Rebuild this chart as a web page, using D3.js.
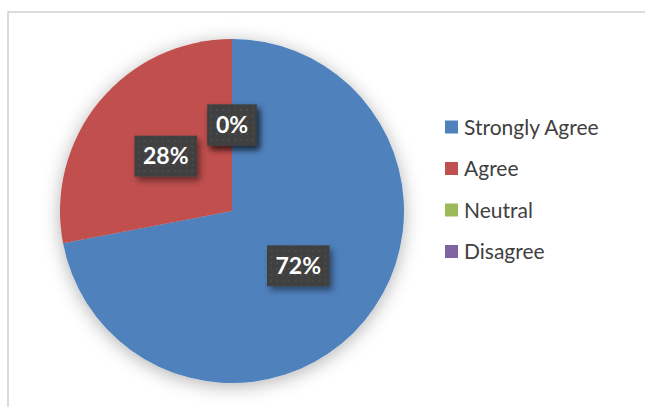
<!DOCTYPE html>
<html>
<head>
<meta charset="utf-8">
<script src="https://cdn.jsdelivr.net/npm/d3@7/dist/d3.min.js"></script>
<style>
  html, body { margin: 0; padding: 0; background: #fff; }
  svg { display: block; }
</style>
</head>
<body>
<svg id="chart" width="645" height="407"></svg>
<script>
// Survey responses (share of respondents, %)
const categories = ["Strongly Agree", "Agree", "Neutral", "Disagree"];
const values = [72, 28, 0, 0];
const colors = ["#4F81BD", "#C0504D", "#9BBB59", "#8064A2"];

const W = 645, H = 407;
const cx = 232, cy = 211, R = 172;

const svg = d3.select("#chart");
const defs = svg.append("defs");

// soft outer shadow under the pie
const pieShadow = defs.append("filter").attr("id", "pieShadow")
  .attr("x", "-30%").attr("y", "-30%").attr("width", "160%").attr("height", "160%");
pieShadow.append("feDropShadow").attr("dx", 0).attr("dy", 3)
  .attr("stdDeviation", 9).attr("flood-color", "#000").attr("flood-opacity", 0.3);

// shadow for the label boxes
const boxShadow = defs.append("filter").attr("id", "boxShadow")
  .attr("x", "-30%").attr("y", "-30%").attr("width", "160%").attr("height", "160%");
boxShadow.append("feDropShadow").attr("dx", 3).attr("dy", 4)
  .attr("stdDeviation", 3).attr("flood-color", "#000").attr("flood-opacity", 0.45);

// dotted texture for label boxes
const pat = defs.append("pattern").attr("id", "dots")
  .attr("width", 6).attr("height", 6).attr("patternUnits", "userSpaceOnUse");
pat.append("rect").attr("width", 6).attr("height", 6).attr("fill", "#404040");
pat.append("circle").attr("cx", 3).attr("cy", 3).attr("r", 0.9).attr("fill", "#505050");

// chart area frame
svg.append("rect")
  .attr("x", 8).attr("y", 12).attr("width", 720).attr("height", 520)
  .attr("fill", "#fff").attr("stroke", "#cfcfcf").attr("stroke-width", 1.5);

const total = d3.sum(values);
const data = categories.map((c, i) => ({ category: c, value: values[i], color: colors[i] }));

const pie = d3.pie().value(d => d.value).sort(null);
const arcs = pie(data);
const arc = d3.arc().innerRadius(0).outerRadius(R);
const labelArc = d3.arc().innerRadius(0).outerRadius(R);

const g = svg.append("g").attr("transform", `translate(${cx},${cy})`);

g.append("g").attr("filter", "url(#pieShadow)")
  .selectAll("path").data(arcs).join("path")
  .attr("d", arc)
  .attr("fill", d => d.data.color);

// percentage labels
const fmt = d3.format(".0%");
const labels = g.append("g").selectAll("g").data(arcs).join("g")
  .attr("transform", d => `translate(${labelArc.centroid(d)})`);

labels.each(function (d) {
  const sel = d3.select(this);
  const box = sel.append("rect").attr("fill", "url(#dots)").attr("filter", "url(#boxShadow)");
  const t = sel.append("text")
    .attr("text-anchor", "middle")
    .attr("y", 8)
    .attr("fill", "#fff")
    .attr("font-family", "Lato, 'Open Sans', sans-serif")
    .attr("font-weight", "bold")
    .attr("font-size", 23)
    .text(fmt(d.data.value / total));
  const w = t.node().getComputedTextLength() + 17;
  const h = 41;
  box.attr("x", -w / 2).attr("y", -h / 2).attr("width", w).attr("height", h);
});

// legend
const legend = svg.append("g").attr("transform", "translate(445,127)");
const rows = legend.selectAll("g").data(data).join("g")
  .attr("transform", (d, i) => `translate(0,${i * 41.5})`);
rows.append("rect")
  .attr("x", 0).attr("y", -6.5).attr("width", 13).attr("height", 13)
  .attr("fill", d => d.color);
rows.append("text")
  .attr("x", 19).attr("y", 7.5)
  .attr("fill", "#404040")
  .attr("font-family", "Lato, 'Open Sans', sans-serif")
  .attr("font-size", 21)
  .text(d => d.category);
</script>
</body>
</html>
